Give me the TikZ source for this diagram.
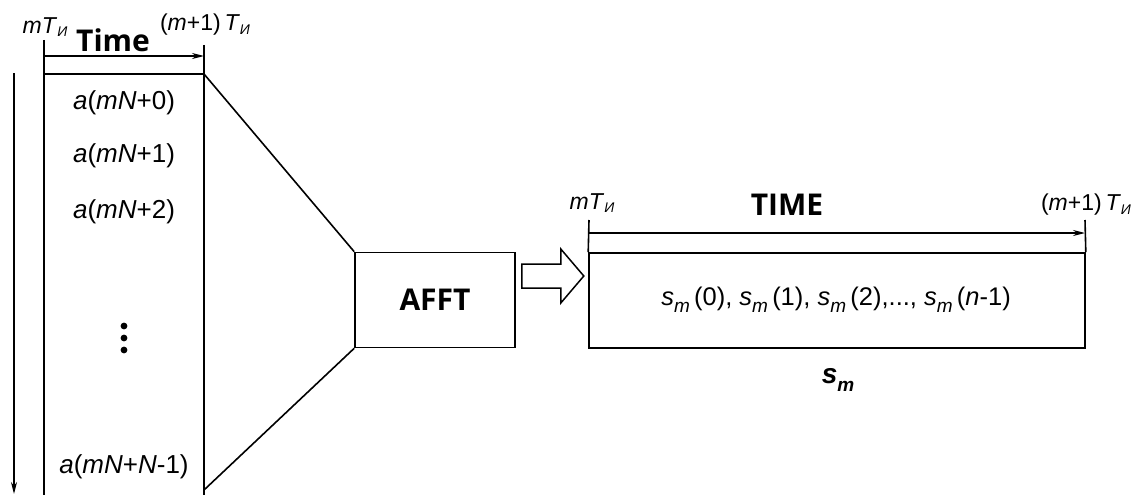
\documentclass[tikz,border=0pt]{standalone}
\usepackage{fontspec}
\setmainfont{Liberation Sans}
\newfontfamily\boldfam{Open Sans}
\usetikzlibrary{arrows.meta}
\newcommand{\subI}[1]{\raisebox{-0.5ex}{\fontsize{19}{19}\selectfont\itshape #1}}
\newcommand{\subH}[1]{\raisebox{-0.3ex}{\fontsize{14}{14}\selectfont\itshape #1}}
\newcommand{\TI}{\textit{T}\subH{И}}
\newcommand{\smx}[1]{\textit{s}\subI{m}\,(#1)}
\begin{document}
\begin{tikzpicture}[x=1pt,y=-1pt, line width=1.6pt,
  lbl/.style={font=\fontsize{26}{26}\selectfont, inner sep=0},
  tlbl/.style={font=\fontsize{23}{23}\selectfont, inner sep=0},
  ttl/.style={font=\boldfam\bfseries\fontsize{30}{30}\selectfont, inner sep=0},
  boxn/.style={draw, inner sep=0},
  tarrow/.style={-{Stealth[length=12pt,width=6pt]}}]
\useasboundingbox (0,0) rectangle (1139,495);

% left input column
\coordinate (ltop) at (44,40);
\coordinate (lbot) at (44,495);
\coordinate (rtop) at (204,45);
\coordinate (rbot) at (204,495);
\coordinate (tl) at (44,74);
\coordinate (tr) at (204,74);
\coordinate (br) at (204,490);
\coordinate (al) at (44,56);
\coordinate (ar) at (204,56);
\coordinate (vt) at (14,73);
\coordinate (vb) at (14,494);
\draw (ltop) -- (lbot);
\draw (rtop) -- (rbot);
\draw (tl) -- (tr);
\draw[tarrow] (al) -- (ar);
\draw[tarrow] (vt) -- (vb);

\node[tlbl] (lm) at (45,27) {\textit{m}\TI};
\node[ttl] (ltime) at (113,40) {Time};
\node[tlbl] (lm1) at (205,25) {(\textit{m}+1)\,\TI};

\node[lbl] (a0) at (124,103) {\textit{a}(\textit{mN}+0)};
\node[lbl] (a1) at (124,156) {\textit{a}(\textit{mN}+1)};
\node[lbl] (a2) at (124,212) {\textit{a}(\textit{mN}+2)};
\node[lbl] (aN) at (124,467) {\textit{a}(\textit{mN}+\textit{N}-1)};
\fill (124,326) circle (3.4pt);
\fill (124,338) circle (3.4pt);
\fill (124,350) circle (3.4pt);

% AFFT
\node[boxn, ttl, minimum width=160pt, minimum height=95pt] (afft) at (435,300) {AFFT};
\draw (tr) -- (afft.north west);
\draw (br) -- (afft.south west);

% hollow arrow
\draw[line width=1.5pt] ([xshift=6pt,yshift=12pt]afft.east) -- ++(39,0) -- ++(0,15) -- ++(23,-27) -- ++(-23,-27) -- ++(0,15) -- ++(-39,0) -- cycle;

% output box
\node[boxn, minimum width=496pt, minimum height=95pt] (rbox) at (837,300.5) {};
\coordinate (r1) at (589,220);
\coordinate (r2) at (1085,220);
\draw (r1) -- (rbox.north west);
\draw (r2) -- (rbox.north east);
\coordinate (rl) at (589,233);
\coordinate (rr) at (1085,233);
\draw[tarrow] (rl) -- (rr);

\node[tlbl] (rm) at (592,203) {\textit{m}\TI};
\node[ttl] (rtime) at (787,205) {TIME};
\node[tlbl] (rm1) at (1086,205) {(\textit{m}+1)\,\TI};
\node[font=\fontsize{25.5}{25.5}\selectfont, inner sep=0] (seq) at (836,300) {\smx{0}, \smx{1}, \smx{2},..., \smx{\textit{n}-1}};
\node[inner sep=0, font=\bfseries\fontsize{28}{28}\selectfont] (sm) at (838,380) {\textit{s}\subI{m}};
\end{tikzpicture}
\end{document}
